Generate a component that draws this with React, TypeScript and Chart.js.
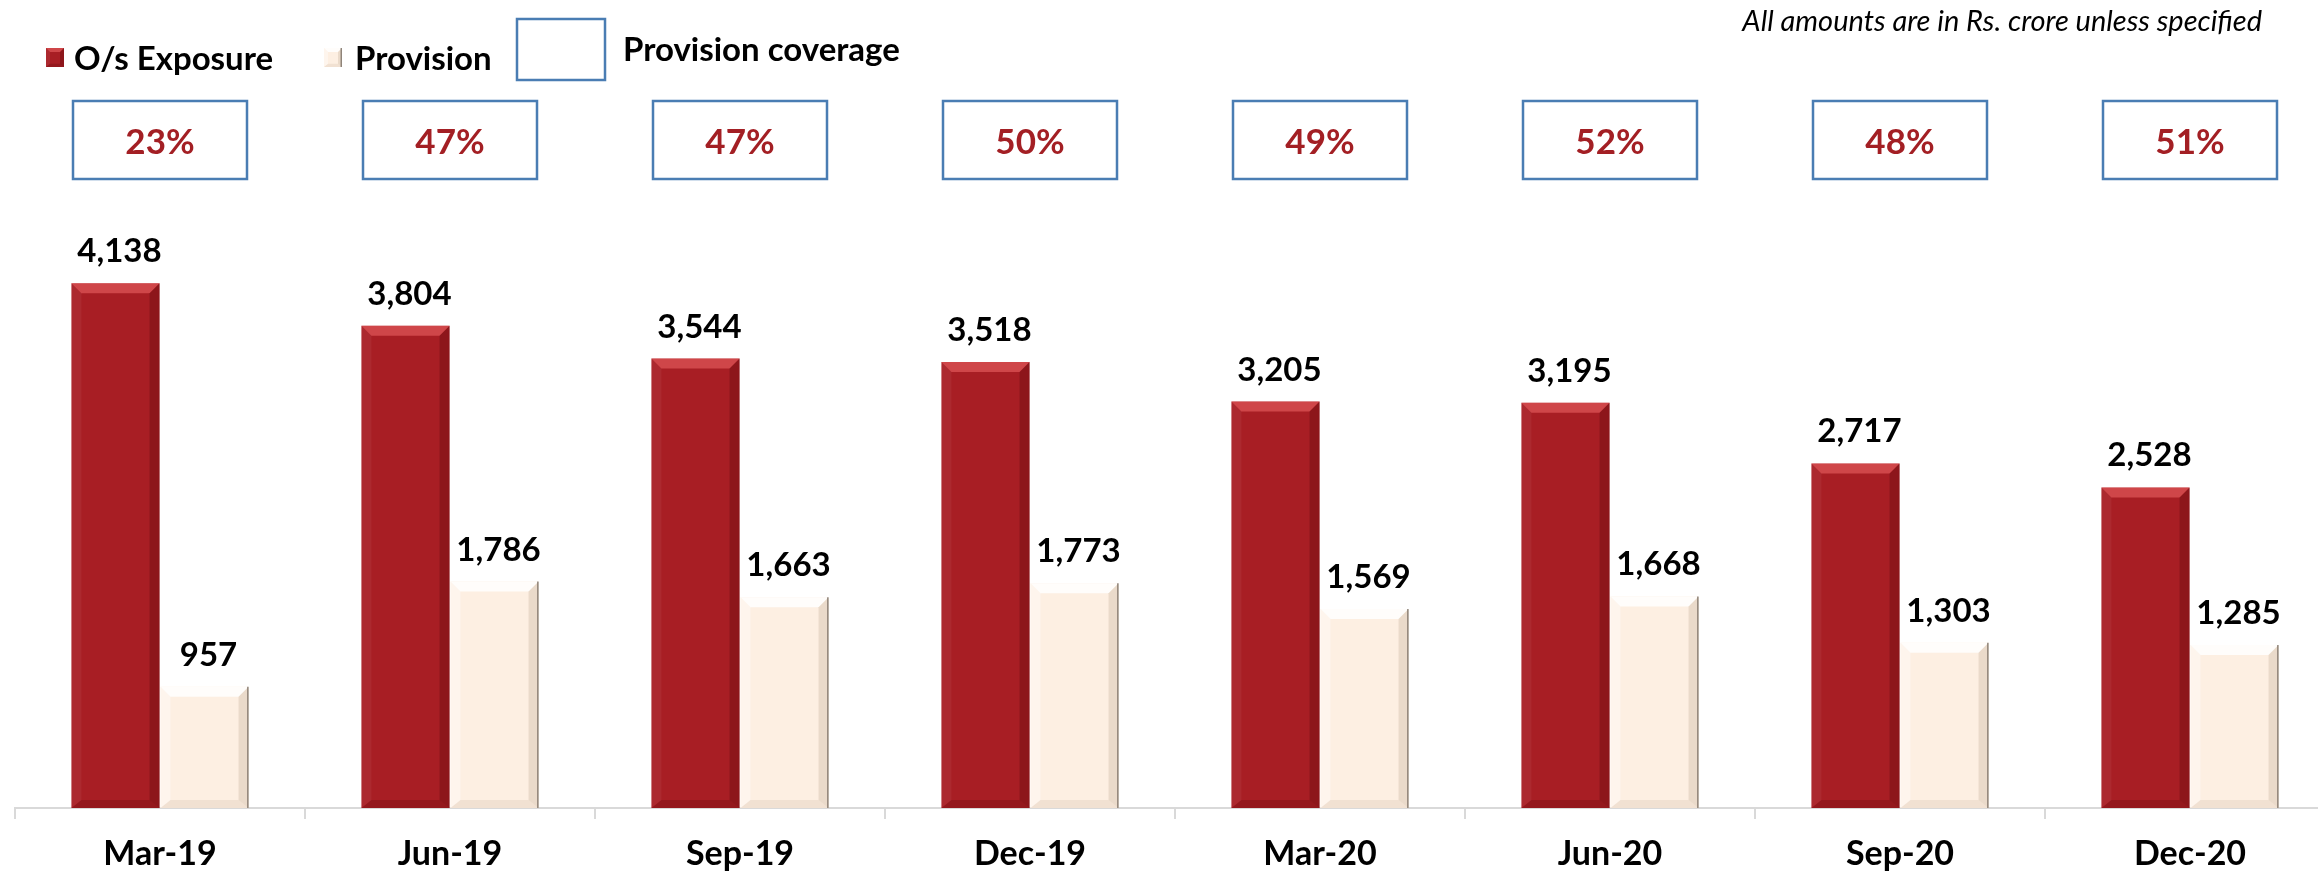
import React, { useEffect, useRef } from "react";
import { Chart, registerables } from "chart.js";

Chart.register(...registerables);

const CATEGORIES = ["Mar-19", "Jun-19", "Sep-19", "Dec-19", "Mar-20", "Jun-20", "Sep-20", "Dec-20"];
const EXPOSURE = [4138, 3804, 3544, 3518, 3205, 3195, 2717, 2528];
const PROVISION = [957, 1786, 1663, 1773, 1569, 1668, 1303, 1285];
const COVERAGE = [23, 47, 47, 50, 49, 52, 48, 51];
const SERIES_NAMES = ["O/s Exposure", "Provision", "Provision coverage"];
const NOTE = "All amounts are in Rs. crore unless specified";
const Y_MAX = 5000;

const RED = "#A81E24";
const CREAM = "#FDEFE2";
const BOX_BLUE = "#4A7DB3";
const PCT_RED = "#A31F24";
const FONT = "Lato, 'Open Sans', sans-serif";

type Bevel = { top: string; right: string; bottom: string; left: string; edge?: string };
const RED_BEVEL: Bevel = {
  top: "rgba(255,120,120,0.45)",
  right: "rgba(60,0,0,0.25)",
  bottom: "rgba(60,0,0,0.18)",
  left: "rgba(255,255,255,0.05)",
};
const CREAM_BEVEL: Bevel = {
  top: "rgba(255,255,255,0.85)",
  right: "rgba(120,90,60,0.14)",
  bottom: "rgba(120,90,60,0.09)",
  left: "rgba(255,255,255,0.4)",
  edge: "rgba(120,110,100,0.8)",
};

function drawBevel(ctx: CanvasRenderingContext2D, l: number, t: number, r: number, b: number, c: Bevel, s: number) {
  const poly = (pts: number[][], color: string) => {
    ctx.beginPath();
    ctx.moveTo(pts[0][0], pts[0][1]);
    for (let i = 1; i < pts.length; i++) ctx.lineTo(pts[i][0], pts[i][1]);
    ctx.closePath();
    ctx.fillStyle = color;
    ctx.fill();
  };
  poly([[l, t], [r, t], [r - s, t + s], [l + s, t + s]], c.top);
  poly([[r, t], [r, b], [r - s, b - s * 0.8], [r - s, t + s]], c.right);
  poly([[l, b], [r, b], [r - s, b - s * 0.8], [l + s, b - s * 0.8]], c.bottom);
  poly([[l, t], [l + s, t + s], [l + s, b - s * 0.8], [l, b]], c.left);
  if (c.edge) {
    ctx.strokeStyle = c.edge;
    ctx.lineWidth = 1.5;
    ctx.beginPath();
    ctx.moveTo(r - 0.75, t);
    ctx.lineTo(r - 0.75, b);
    ctx.stroke();
  }
}

const decorPlugin = {
  id: "decor",
  afterDatasetsDraw(chart: any) {
    const ctx: CanvasRenderingContext2D = chart.ctx;
    ctx.save();
    chart.data.datasets.forEach((ds: any, di: number) => {
      const meta = chart.getDatasetMeta(di);
      meta.data.forEach((el: any) => {
        const w = el.width;
        drawBevel(ctx, el.x - w / 2, el.y, el.x + w / 2, el.base, di === 0 ? RED_BEVEL : CREAM_BEVEL, 10);
      });
    });
    ctx.fillStyle = "#000";
    ctx.font = `bold 33px ${FONT}`;
    ctx.textAlign = "center";
    ctx.textBaseline = "alphabetic";
    chart.data.datasets.forEach((ds: any, di: number) => {
      const meta = chart.getDatasetMeta(di);
      meta.data.forEach((el: any, i: number) => {
        const v = ds.data[i] as number;
        ctx.fillText(v.toLocaleString("en-US"), el.x + 4, el.y - 21);
      });
    });
    const xs = chart.scales.x;
    COVERAGE.forEach((p, i) => {
      const cx = xs.getPixelForValue(i);
      const bw = 174;
      ctx.strokeStyle = BOX_BLUE;
      ctx.lineWidth = 2.5;
      ctx.strokeRect(cx - bw / 2, 101, bw, 78);
      ctx.fillStyle = PCT_RED;
      ctx.font = `bold 35px ${FONT}`;
      ctx.textAlign = "center";
      ctx.textBaseline = "alphabetic";
      ctx.fillText(`${p}%`, cx, 154);
    });
    ctx.restore();
  },
  afterDraw(chart: any) {
    const ctx: CanvasRenderingContext2D = chart.ctx;
    ctx.save();
    ctx.fillStyle = RED;
    ctx.fillRect(46, 48, 18, 19);
    drawBevel(ctx, 46, 48, 64, 67, RED_BEVEL, 4);
    ctx.fillStyle = CREAM;
    ctx.fillRect(324, 48, 18, 19);
    drawBevel(ctx, 324, 48, 342, 67, CREAM_BEVEL, 4);
    ctx.strokeStyle = BOX_BLUE;
    ctx.lineWidth = 2.5;
    ctx.strokeRect(517, 19, 88, 61);
    ctx.fillStyle = "#000";
    ctx.font = `bold 33px ${FONT}`;
    ctx.textAlign = "left";
    ctx.textBaseline = "alphabetic";
    ctx.fillText(SERIES_NAMES[0], 74, 70, 208);
    ctx.fillText(SERIES_NAMES[1], 355, 70, 145);
    ctx.fillText(SERIES_NAMES[2], 623, 61, 280);
    ctx.font = `italic 29px ${FONT}`;
    ctx.textAlign = "right";
    ctx.fillText(NOTE, 2262, 31, 524);
    ctx.restore();
  },
};

export default function App() {
  const ref = useRef<HTMLCanvasElement | null>(null);
  useEffect(() => {
    if (!ref.current) return;
    const chart = new Chart(ref.current, {
      type: "bar",
      data: {
        labels: CATEGORIES,
        datasets: [
          {
            label: SERIES_NAMES[0],
            data: EXPOSURE,
            backgroundColor: RED,
            borderWidth: 0,
            categoryPercentage: 0.614,
            barPercentage: 0.99,
          },
          {
            label: SERIES_NAMES[1],
            data: PROVISION,
            backgroundColor: CREAM,
            borderWidth: 0,
            categoryPercentage: 0.614,
            barPercentage: 0.99,
          },
        ],
      },
      options: {
        responsive: false,
        animation: false,
        devicePixelRatio: 1,
        layout: { padding: { top: 174, left: 15, right: 5, bottom: 0 } },
        plugins: { legend: { display: false }, tooltip: { enabled: false } },
        scales: {
          x: {
            offset: true,
            grid: {
              display: true,
              drawOnChartArea: false,
              drawTicks: true,
              tickLength: 11,
              color: "#D9D9D9",
              lineWidth: 2,
              offset: true,
            },
            border: { display: true, color: "#D9D9D9", width: 2 },
            ticks: {
              color: "#000",
              font: { family: FONT, weight: "bold", size: 34 },
              padding: 15,
              maxRotation: 0,
            },
            afterFit(scale: any) {
              scale.height = 66;
            },
          },
          y: { display: false, min: 0, max: Y_MAX },
        },
      },
      plugins: [decorPlugin],
    });
    return () => chart.destroy();
  }, []);
  return (
    <div style={{ position: "absolute", left: 0, top: 0, width: 2318, height: 874, overflow: "hidden", background: "#fff" }}>
      <canvas ref={ref} width={2340} height={874} style={{ display: "block" }} />
    </div>
  );
}
